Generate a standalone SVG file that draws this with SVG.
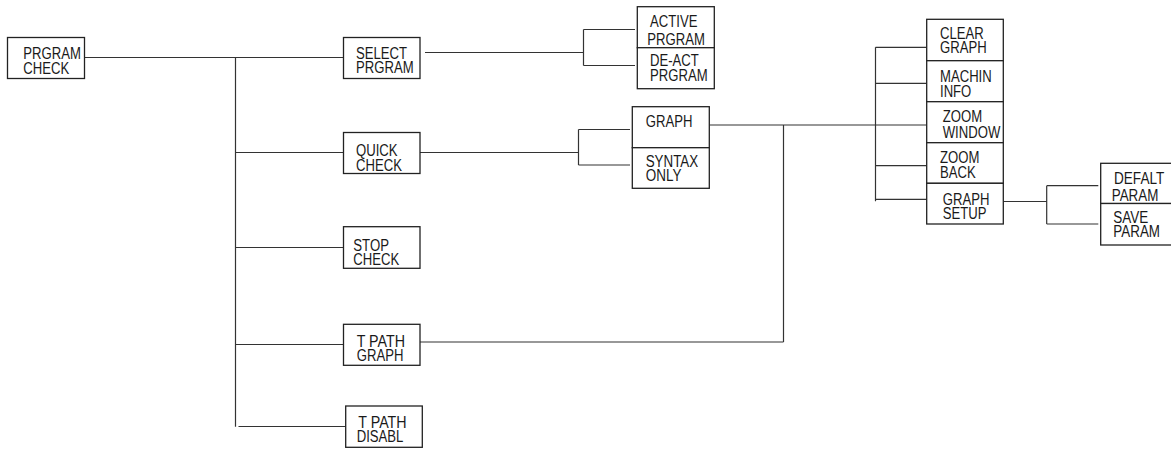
<svg xmlns="http://www.w3.org/2000/svg" width="1171" height="453" viewBox="0 0 1171 453">
<style>
.bg{fill:#ffffff}
.box{fill:#ffffff;stroke:#222222;stroke-width:1.3}
.ln{fill:none;stroke:#333333;stroke-width:1.2}
.t{font-family:"Liberation Sans",Arial,sans-serif;font-size:16px;fill:#1a1a1a}
</style>
<rect class="bg" x="0" y="0" width="1171" height="453"/>
<g id="connectors">
<path class="ln" d="M84.5 57.5H343.5"/>
<path class="ln" d="M235.5 57.5V426.7"/>
<path class="ln" d="M235.5 152.5H343.5"/>
<path class="ln" d="M235.5 247.5H343.5"/>
<path class="ln" d="M235.5 344.5H343.5"/>
<path class="ln" d="M238.5 426.5H345.7"/>
<path class="ln" d="M425 52.5H583.5M583.5 29.5V65.5M583.5 29.5H635M583.5 65.5H635"/>
<path class="ln" d="M420 152.5H578.5M578.5 129.5V165M578.5 129.5H630M578.5 165H630"/>
<path class="ln" d="M709.3 125H926.7M783.5 125V342M420 342H783.5"/>
<path class="ln" d="M875.5 47.3V201.3M875.5 47.3H926.7M875.5 83.3H926.7M875.5 165.7H926.7M875.5 199.3H926.7"/>
<path class="ln" d="M1003.3 201.5H1046.7M1046.7 185.7V224M1046.7 185.7H1098.3M1046.7 224H1098.3"/>
</g>
<g id="prgram-check">
<rect class="box" x="7.5" y="37.5" width="77" height="41"/>
<text class="t" x="23.3" y="59" textLength="57.6" lengthAdjust="spacingAndGlyphs">PRGRAM</text>
<text class="t" x="23.3" y="73.7" textLength="45.9" lengthAdjust="spacingAndGlyphs">CHECK</text>
</g>
<g id="select-prgram">
<rect class="box" x="343.5" y="37.5" width="76.5" height="41"/>
<text class="t" x="356" y="59" textLength="51" lengthAdjust="spacingAndGlyphs">SELECT</text>
<text class="t" x="356" y="73.3" textLength="57.6" lengthAdjust="spacingAndGlyphs">PRGRAM</text>
</g>
<g id="quick-check">
<rect class="box" x="343.5" y="132.5" width="76.5" height="41"/>
<text class="t" x="356" y="155.7" textLength="41.6" lengthAdjust="spacingAndGlyphs">QUICK</text>
<text class="t" x="356" y="171" textLength="45.9" lengthAdjust="spacingAndGlyphs">CHECK</text>
</g>
<g id="stop-check">
<rect class="box" x="343.5" y="226.7" width="76.5" height="41.6"/>
<text class="t" x="353.3" y="250.7" textLength="35.7" lengthAdjust="spacingAndGlyphs">STOP</text>
<text class="t" x="353.3" y="265.3" textLength="45.9" lengthAdjust="spacingAndGlyphs">CHECK</text>
</g>
<g id="tpath-graph">
<rect class="box" x="343.5" y="324.3" width="76.5" height="41"/>
<text class="t" x="356.7" y="346.7" textLength="48.3" lengthAdjust="spacingAndGlyphs">T PATH</text>
<text class="t" x="356.7" y="360.7" textLength="46.7" lengthAdjust="spacingAndGlyphs">GRAPH</text>
</g>
<g id="tpath-disabl">
<rect class="box" x="345.7" y="406" width="76.6" height="41.3"/>
<text class="t" x="358.3" y="427.7" textLength="48.3" lengthAdjust="spacingAndGlyphs">T PATH</text>
<text class="t" x="356.7" y="442.3" textLength="46.7" lengthAdjust="spacingAndGlyphs">DISABL</text>
</g>
<g id="active-prgram">
<rect class="box" x="637.3" y="6.7" width="77" height="41"/>
<text class="t" x="650" y="27.3" textLength="47.4" lengthAdjust="spacingAndGlyphs">ACTIVE</text>
<text class="t" x="647.3" y="45" textLength="57.6" lengthAdjust="spacingAndGlyphs">PRGRAM</text>
</g>
<g id="deact-prgram">
<rect class="box" x="637.3" y="47.7" width="77" height="41"/>
<text class="t" x="650" y="66" textLength="48.8" lengthAdjust="spacingAndGlyphs">DE-ACT</text>
<text class="t" x="650" y="81.3" textLength="57.6" lengthAdjust="spacingAndGlyphs">PRGRAM</text>
</g>
<g id="graph">
<rect class="box" x="632.3" y="106.7" width="77" height="41"/>
<text class="t" x="645.7" y="127.3" textLength="46.7" lengthAdjust="spacingAndGlyphs">GRAPH</text>
</g>
<g id="syntax-only">
<rect class="box" x="632.3" y="147.7" width="77" height="40.6"/>
<text class="t" x="645.7" y="166.7" textLength="52.5" lengthAdjust="spacingAndGlyphs">SYNTAX</text>
<text class="t" x="645.7" y="181" textLength="35.7" lengthAdjust="spacingAndGlyphs">ONLY</text>
</g>
<g id="clear-graph">
<rect class="box" x="926.7" y="19.3" width="76.6" height="41.4"/>
<text class="t" x="940" y="39" textLength="43.7" lengthAdjust="spacingAndGlyphs">CLEAR</text>
<text class="t" x="940" y="53.3" textLength="46.7" lengthAdjust="spacingAndGlyphs">GRAPH</text>
</g>
<g id="machin-info">
<rect class="box" x="926.7" y="60.7" width="76.6" height="41"/>
<text class="t" x="940" y="82" textLength="51.7" lengthAdjust="spacingAndGlyphs">MACHIN</text>
<text class="t" x="940" y="97.3" textLength="31.3" lengthAdjust="spacingAndGlyphs">INFO</text>
</g>
<g id="zoom-window">
<rect class="box" x="926.7" y="101.7" width="76.6" height="41"/>
<text class="t" x="942.7" y="122.3" textLength="39.4" lengthAdjust="spacingAndGlyphs">ZOOM</text>
<text class="t" x="942.7" y="137.7" textLength="57.6" lengthAdjust="spacingAndGlyphs">WINDOW</text>
</g>
<g id="zoom-back">
<rect class="box" x="926.7" y="142.7" width="76.6" height="40.6"/>
<text class="t" x="940" y="163.3" textLength="39.4" lengthAdjust="spacingAndGlyphs">ZOOM</text>
<text class="t" x="940" y="178" textLength="35.7" lengthAdjust="spacingAndGlyphs">BACK</text>
</g>
<g id="graph-setup">
<rect class="box" x="926.7" y="183.3" width="76.6" height="40.7"/>
<text class="t" x="942.7" y="205" textLength="46.7" lengthAdjust="spacingAndGlyphs">GRAPH</text>
<text class="t" x="942.7" y="219.3" textLength="43.7" lengthAdjust="spacingAndGlyphs">SETUP</text>
</g>
<g id="defalt-param">
<rect class="box" x="1100.7" y="163.3" width="78" height="40.2"/>
<text class="t" x="1114" y="184.3" textLength="50.3" lengthAdjust="spacingAndGlyphs">DEFALT</text>
<text class="t" x="1111.7" y="200.7" textLength="46.7" lengthAdjust="spacingAndGlyphs">PARAM</text>
</g>
<g id="save-param">
<rect class="box" x="1100.7" y="203.5" width="78" height="41.5"/>
<text class="t" x="1113.3" y="222.7" textLength="35" lengthAdjust="spacingAndGlyphs">SAVE</text>
<text class="t" x="1113.3" y="237.3" textLength="46.7" lengthAdjust="spacingAndGlyphs">PARAM</text>
</g>
</svg>
